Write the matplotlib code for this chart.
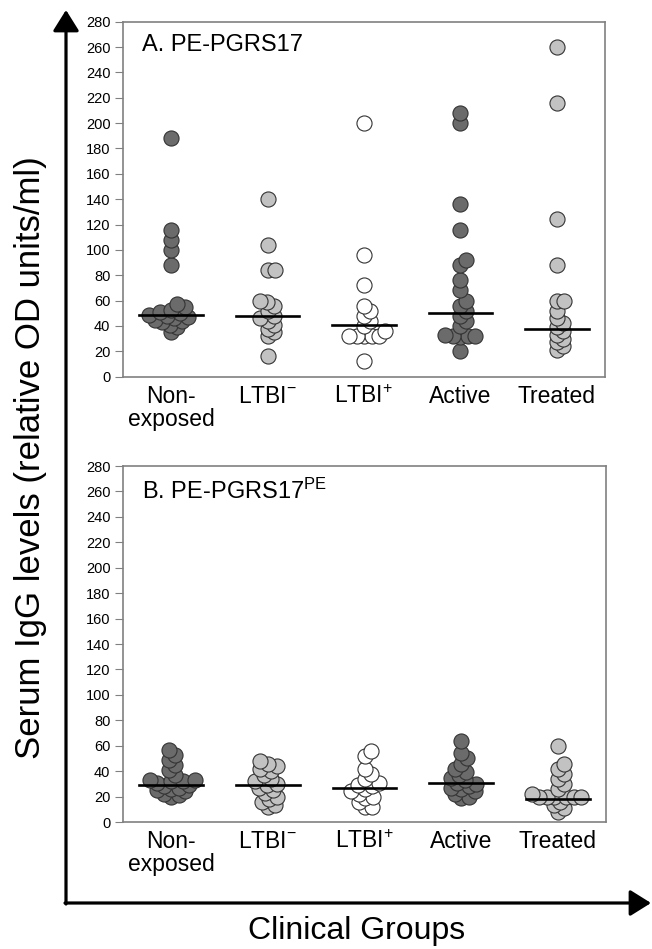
import numpy as np
import matplotlib.pyplot as plt

plt.rcParams['font.family'] = ['Liberation Sans', 'DejaVu Sans']
plt.rcParams['mathtext.fontset'] = 'custom'
plt.rcParams['mathtext.rm'] = 'Liberation Sans'
plt.rcParams['mathtext.it'] = 'Liberation Sans:italic'
plt.rcParams['mathtext.bf'] = 'Liberation Sans:bold'

# groups and their marker fills
groups = ['Non-\nexposed', r'LTBI$^{\mathrm{-}}$', r'LTBI$^{\mathrm{+}}$', 'Active', 'Treated']
fills = ['#6b6b6b', '#c2c2c2', '#ffffff', '#6b6b6b', '#c2c2c2']

# panel A: PE-PGRS17
a_nonexp = [188, 116, 108, 100, 88, 57, 55, 53, 51, 50, 49, 48, 47, 46, 45, 44, 43, 41, 39, 35]
a_ltbi_neg = [140, 104, 84, 84, 60, 59, 56, 52, 48, 46, 44, 41, 38, 35, 32, 16]
a_ltbi_pos = [200, 96, 72, 56, 52, 48, 44, 40, 36, 32, 32, 32, 32, 32, 12]
a_active = [208, 200, 136, 116, 92, 88, 76, 68, 60, 56, 52, 48, 44, 40, 33, 32, 32, 32, 31, 20]
a_treated = [260, 216, 124, 88, 60, 60, 52, 46, 42, 39, 36, 33, 30, 27, 24, 21]
a_medians = [48.5, 48, 41, 50, 38]

# panel B: PE-PGRS17 PE domain
b_nonexp = [57, 53, 49, 45, 41, 37, 33, 33, 32, 32, 31, 29, 28, 27, 26, 25, 24, 22, 21, 20]
b_ltbi_neg = [48, 46, 44, 42, 40, 37, 34, 32, 30, 29, 27, 25, 23, 20, 18, 16, 13, 12]
b_ltbi_pos = [56, 52, 42, 38, 34, 31, 29, 28, 26, 24, 22, 20, 19, 16, 12, 12]
b_active = [64, 54, 50, 46, 42, 39, 37, 35, 33, 31, 30, 28, 27, 26, 24, 22, 20, 19]
b_treated = [60, 46, 42, 38, 34, 30, 26, 22, 20, 20, 20, 20, 20, 20, 16, 13, 11, 8]
b_medians = [29, 29, 26.5, 31, 18]

yticks = list(range(0, 281, 20))

W, H = 652, 949
fig = plt.figure(figsize=(W / 100, H / 100), dpi=100)


def swarm(ax, xc, vals, mind=7.5):
    # simple beeswarm in display pixels
    placed = []
    out = []
    for v in sorted(vals):
        px, py = ax.transData.transform((xc, v))
        best = None
        for k in range(0, 120):
            for off in ([0] if k == 0 else [k * 0.5, -k * 0.5]):
                ok = all((px + off - qx) ** 2 + (py - qy) ** 2 >= mind ** 2 for qx, qy in placed)
                if ok:
                    best = off
                    break
            if best is not None:
                break
        placed.append((px + best, py))
        out.append(ax.transData.inverted().transform((px + best, py)))
    return np.array(out)


def panel(rect, data, medians, title):
    ax = fig.add_axes(rect)
    ax.set_xlim(0.5, 5.5)
    ax.set_ylim(0, 280)
    ax.set_yticks(yticks)
    ax.tick_params(axis='y', length=6, color='#808080', labelsize=10.5, pad=3)
    ax.tick_params(axis='x', length=0, labelsize=16.5, pad=6)
    ax.set_xticks(range(1, 6))
    ax.set_xticklabels(groups, linespacing=1.0)
    for s in ax.spines.values():
        s.set_color('#808080')
        s.set_linewidth(1.2)
    for i, vals in enumerate(data):
        pts = swarm(ax, i + 1, vals)
        ax.scatter(pts[:, 0], pts[:, 1], s=118, facecolor=fills[i], edgecolor='#333333',
                   linewidth=0.8, zorder=3)
        ax.plot([i + 1 - 0.33, i + 1 + 0.33], [medians[i], medians[i]], color='black',
                lw=1.9, zorder=4)
    ax.text(0.04, 0.965, title, transform=ax.transAxes, fontsize=17, va='top', ha='left')
    return ax


panel([123 / W, 1 - 376.7 / H, 482 / W, 355 / H],
      [a_nonexp, a_ltbi_neg, a_ltbi_pos, a_active, a_treated], a_medians, 'A. PE-PGRS17')
panel([123 / W, 1 - 822 / H, 483 / W, 356 / H],
      [b_nonexp, b_ltbi_neg, b_ltbi_pos, b_active, b_treated], b_medians,
      r'B. PE-PGRS17$^{\mathrm{PE}}$')

# outer axis arrows
arrow = dict(arrowstyle='-|>,head_length=0.8,head_width=0.5', lw=2.3, color='black',
             mutation_scale=16, shrinkA=0, shrinkB=0)
fig.add_artist(plt.Annotation('', xy=(66, H - 10), xytext=(66, H - 904),
                              xycoords='figure pixels', arrowprops=arrow))
fig.add_artist(plt.Annotation('', xy=(651, H - 903), xytext=(65, H - 903),
                              xycoords='figure pixels', arrowprops=arrow))

fig.text(31 / W, 1 - 458 / H, 'Serum IgG levels (relative OD units/ml)', rotation=90,
         ha='center', va='center', fontsize=25)
fig.text(357 / W, 1 - 931 / H, 'Clinical Groups', ha='center', va='center', fontsize=23)

fig.savefig('out.png', dpi=100)
